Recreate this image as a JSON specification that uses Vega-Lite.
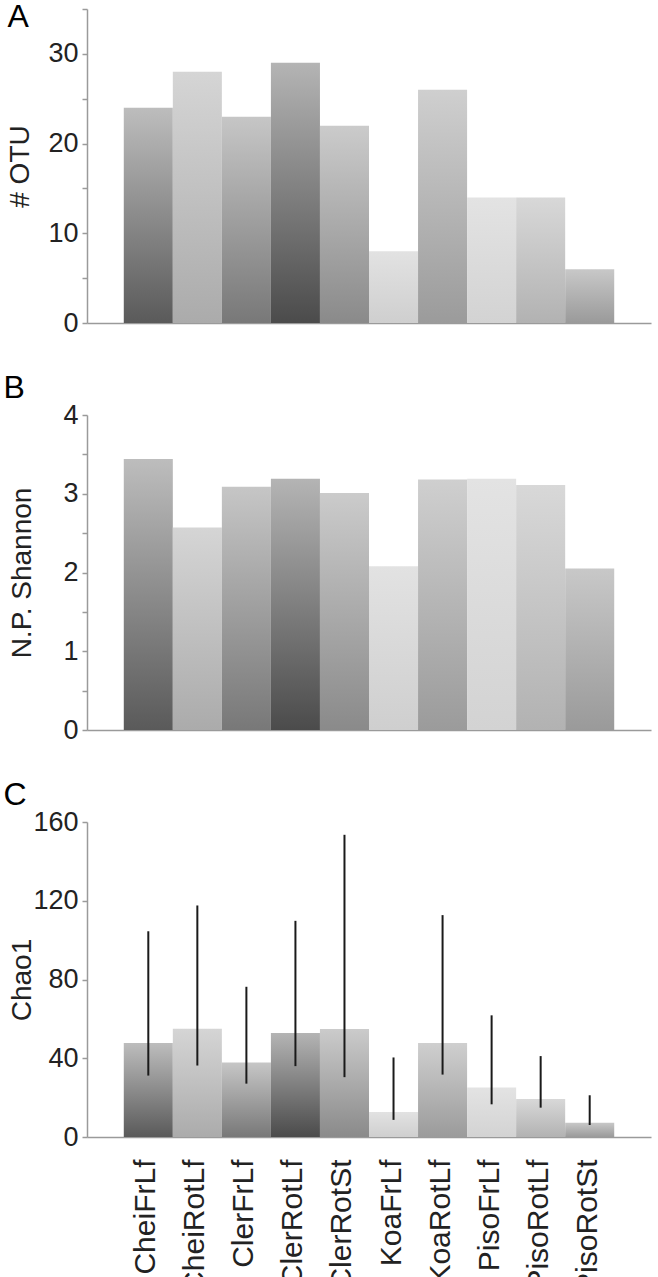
{
  "$schema": "https://vega.github.io/schema/vega-lite/v6.json",
  "padding": {"left": 3, "top": 1, "right": 3, "bottom": 0},
  "background": "white",
  "config": {
    "font": "Liberation Sans",
    "view": {"stroke": null},
    "axis": {"domainColor": "#9a9a9a", "tickColor": "#9a9a9a", "domainWidth": 1.5, "tickWidth": 1.5, "grid": false, "labelColor": "#222222", "titleColor": "#222222", "labelFont": "Liberation Sans", "titleFont": "Liberation Sans", "labelFontSize": 27, "titleFontSize": 28, "titleFontWeight": "normal", "tickSize": 5, "labelPadding": 4},
    "title": {"fontSize": 32, "fontWeight": "normal", "anchor": "start", "frame": "bounds", "color": "#000000", "font": "Liberation Sans", "baseline": "alphabetic"}
  },
  "spacing": 36,
  "datasets": {
    "d": [
      {"sample": "CheiFrLf", "otu": 24, "shannon": 3.44, "chao": 47.8, "lo": 31.2, "hi": 104.5},
      {"sample": "CheiRotLf", "otu": 28, "shannon": 2.57, "chao": 55.0, "lo": 36.3, "hi": 117.6},
      {"sample": "ClerFrLf", "otu": 23, "shannon": 3.09, "chao": 37.8, "lo": 27.1, "hi": 76.3},
      {"sample": "ClerRotLf", "otu": 29, "shannon": 3.19, "chao": 52.8, "lo": 36.0, "hi": 109.8},
      {"sample": "ClerRotSt", "otu": 22, "shannon": 3.01, "chao": 54.8, "lo": 30.4, "hi": 153.5},
      {"sample": "KoaFrLf", "otu": 8, "shannon": 2.08, "chao": 12.7, "lo": 8.7, "hi": 40.4},
      {"sample": "KoaRotLf", "otu": 26, "shannon": 3.18, "chao": 47.8, "lo": 31.7, "hi": 112.7},
      {"sample": "PisoFrLf", "otu": 14, "shannon": 3.19, "chao": 25.1, "lo": 16.6, "hi": 61.8},
      {"sample": "PisoRotLf", "otu": 14, "shannon": 3.11, "chao": 19.3, "lo": 14.9, "hi": 41.1},
      {"sample": "PisoRotSt", "otu": 6, "shannon": 2.05, "chao": 7.3, "lo": 6.1, "hi": 21.2}
    ]
  },
  "vconcat": [
    {
      "title": {"text": "A", "dy": 30, "dx": 1},
      "width": 564,
      "height": 314,
      "data": {"name": "d"},
      "mark": {"type": "bar", "fill": {"expr": "{gradient:'linear',x1:0,y1:1,x2:0,y2:0,stops:[{offset:0,color:{CheiFrLf:'#5a5a5a',CheiRotLf:'#ababab',ClerFrLf:'#787878',ClerRotLf:'#4b4b4b',ClerRotSt:'#8a8a8a',KoaFrLf:'#cfcfcf',KoaRotLf:'#9b9b9b',PisoFrLf:'#d3d3d3',PisoRotLf:'#b2b2b2',PisoRotSt:'#9a9a9a'}[datum.sample]},{offset:1,color:{CheiFrLf:'#bdbdbd',CheiRotLf:'#d5d5d5',ClerFrLf:'#c6c6c6',ClerRotLf:'#b4b4b4',ClerRotSt:'#cbcbcb',KoaFrLf:'#e2e2e2',KoaRotLf:'#cfcfcf',PisoFrLf:'#e3e3e3',PisoRotLf:'#d8d8d8',PisoRotSt:'#c8c8c8'}[datum.sample]}]}"}},
      "encoding": {
        "x": {"field": "sample", "type": "nominal", "sort": null, "scale": {"paddingInner": 0, "paddingOuter": 0.75}, "axis": {"labels": false, "ticks": false, "title": null}},
        "y": {"field": "otu", "type": "quantitative", "scale": {"domain": [0, 35], "nice": false}, "axis": {"title": "# OTU", "values": [0, 5, 10, 15, 20, 25, 30, 35], "labelExpr": "datum.value % 10 === 0 ? datum.label : ''", "titlePadding": 13.5}}
      }
    },
    {
      "title": {"text": "B", "offset": -4, "dx": -5},
      "width": 564,
      "height": 315,
      "data": {"name": "d"},
      "mark": {"type": "bar", "fill": {"expr": "{gradient:'linear',x1:0,y1:1,x2:0,y2:0,stops:[{offset:0,color:{CheiFrLf:'#5a5a5a',CheiRotLf:'#ababab',ClerFrLf:'#787878',ClerRotLf:'#4b4b4b',ClerRotSt:'#8a8a8a',KoaFrLf:'#cfcfcf',KoaRotLf:'#9b9b9b',PisoFrLf:'#d3d3d3',PisoRotLf:'#b2b2b2',PisoRotSt:'#9a9a9a'}[datum.sample]},{offset:1,color:{CheiFrLf:'#bdbdbd',CheiRotLf:'#d5d5d5',ClerFrLf:'#c6c6c6',ClerRotLf:'#b4b4b4',ClerRotSt:'#cbcbcb',KoaFrLf:'#e2e2e2',KoaRotLf:'#cfcfcf',PisoFrLf:'#e3e3e3',PisoRotLf:'#d8d8d8',PisoRotSt:'#c8c8c8'}[datum.sample]}]}"}},
      "encoding": {
        "x": {"field": "sample", "type": "nominal", "sort": null, "scale": {"paddingInner": 0, "paddingOuter": 0.75}, "axis": {"labels": false, "ticks": false, "title": null}},
        "y": {"field": "shannon", "type": "quantitative", "scale": {"domain": [0, 4], "nice": false}, "axis": {"title": "N.P. Shannon", "values": [0, 0.5, 1, 1.5, 2, 2.5, 3, 3.5, 4], "format": "~g", "labelExpr": "datum.value % 1 === 0 ? datum.label : ''", "titlePadding": 26.5}}
      }
    },
    {
      "title": {"text": "C", "offset": -4, "dx": -5},
      "width": 564,
      "height": 315,
      "data": {"name": "d"},
      "encoding": {
        "x": {"field": "sample", "type": "nominal", "sort": null, "scale": {"paddingInner": 0, "paddingOuter": 0.75}, "axis": {"title": null, "ticks": false, "tickSize": 0, "labelAngle": -90, "labelAlign": "right", "labelBaseline": "middle", "labelFontSize": 30, "labelPadding": 22, "labelOffset": -2, "labelColor": "#222222"}}
      },
      "layer": [
        {
          "mark": {"type": "bar", "fill": {"expr": "{gradient:'linear',x1:0,y1:1,x2:0,y2:0,stops:[{offset:0,color:{CheiFrLf:'#5a5a5a',CheiRotLf:'#ababab',ClerFrLf:'#787878',ClerRotLf:'#4b4b4b',ClerRotSt:'#8a8a8a',KoaFrLf:'#cfcfcf',KoaRotLf:'#9b9b9b',PisoFrLf:'#d3d3d3',PisoRotLf:'#b2b2b2',PisoRotSt:'#9a9a9a'}[datum.sample]},{offset:1,color:{CheiFrLf:'#bdbdbd',CheiRotLf:'#d5d5d5',ClerFrLf:'#c6c6c6',ClerRotLf:'#b4b4b4',ClerRotSt:'#cbcbcb',KoaFrLf:'#e2e2e2',KoaRotLf:'#cfcfcf',PisoFrLf:'#e3e3e3',PisoRotLf:'#d8d8d8',PisoRotSt:'#c8c8c8'}[datum.sample]}]}"}},
          "encoding": {
            "y": {"field": "chao", "type": "quantitative", "scale": {"domain": [0, 160], "nice": false}, "axis": {"title": "Chao1", "values": [0, 20, 40, 60, 80, 100, 120, 140, 160], "labelExpr": "datum.value % 40 === 0 ? datum.label : ''", "titlePadding": -3.5}}
          }
        },
        {
          "mark": {"type": "rule", "color": "#1a1a1a", "strokeWidth": 2},
          "encoding": {
            "y": {"field": "lo", "type": "quantitative"},
            "y2": {"field": "hi"}
          }
        }
      ]
    }
  ]
}
